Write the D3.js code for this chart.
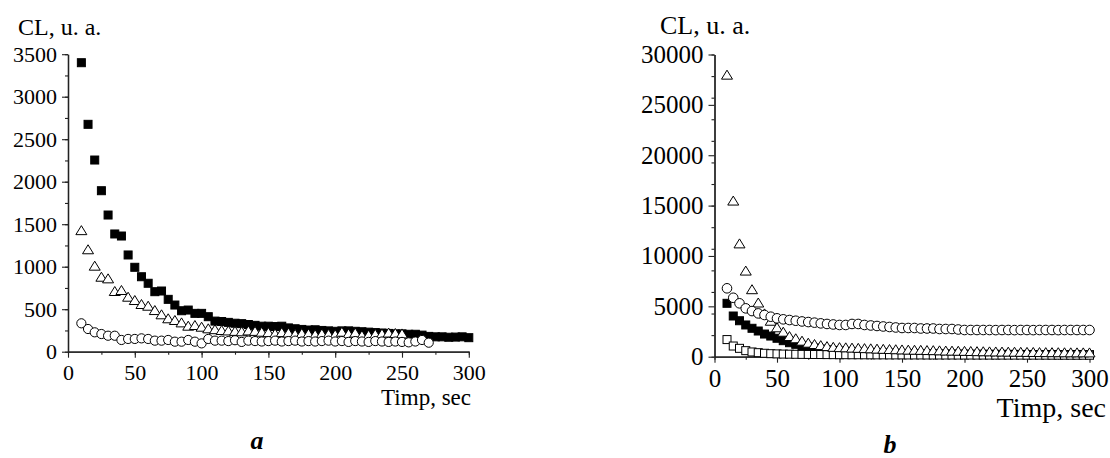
<!DOCTYPE html>
<html><head><meta charset="utf-8">
<script src="https://cdn.jsdelivr.net/npm/d3@7"></script>
<style>
body{margin:0;background:#fff;}
svg{display:block;}
text{font-family:"Liberation Serif","Times New Roman",serif;fill:#000;}
</style></head><body>
<svg id="c" width="1110" height="458"></svg>
<script>
// ---------- data ----------
const timeA = d3.range(10, 301, 5); // seconds
const aSquares = [3400,2675,2255,1894,1608,1385,1361,1138,993,882,805,706,714,616,549,482,490,451,451,412,
  360,355,345,335,330,320,310,300,300,296,300,280,270,262,255,258,250,245,240,245,245,240,235,230,225,220,215,210,210,205,
  205,195,180,175,175,170,172,175,165];
const aTriangles = [1430,1205,1012,882,863,714,726,647,608,561,541,490,440,393,373,345,306,314,294,275,
  265,255,250,245,240,250,245,235,230,215,230,225,210,220,215,205,215,210,205,235,215,225,195,200,210,215,225,220,215];
const aCircles = [334,267,228,208,188,188,138,150,150,157,150,130,130,138,118,118,138,118,98,150,
  130,130,125,135,115,130,125,120,125,130,120,125,130,120,125,120,125,130,120,125,115,125,120,115,125,120,115,120,115,110,
  120,138,106];
const timeB = d3.range(10, 301, 5);
const bTriangles = [28000,15500,11250,8550,6700,5380,4300,3570,2920,2480,2050,1830,1590,1390,1260,1150,1050,980,950,930,
  900,880,850,830,800,780,760,740,720,700,690,680,660,650,630,610,600,590,580,565,
  550,540,530,520,510,500,495,485,475,470,460,455,450,445,440,435,430,430,425];
const bCircles = [6790,5850,5300,4800,4530,4300,4140,3970,3810,3710,3640,3570,3500,3440,3380,3310,3250,3200,3150,3150,
  3250,3250,3150,3100,3050,3000,2950,2900,2850,2850,2850,2800,2800,2800,2750,2750,2750,2700,2650,2650,
  2650,2650,2650,2640,2650,2650,2640,2650,2650,2640,2650,2650,2650,2640,2650,2650,2650,2650,2650];
const bFilled = [5300,4040,3570,3150,2820,2550,2250,2050,1830,1590,1390,1230,1060,960,860,760,680,620,560,520,
  480,450,420,400,380,365,350,335,320,310,300,290,280,275,270,265,260,255,250,245,
  240,238,235,232,230,228,225,222,220,218,215,212,210,208,205,204,202,201,200];
const bOpen = [1700,1060,830,600,470,400,340,300,280,260,250,240,230,225,220,215,210,205,200,200,
  195,195,190,190,185,185,180,180,180,175,175,175,170,170,170,168,168,165,165,165,
  162,162,160,160,160,158,158,158,155,155,155,155,152,152,150,150,150,150,150];
const xTicks = [0,50,100,150,200,250,300];
const aYTicks = [0,500,1000,1500,2000,2500,3000,3500];
const bYTicks = [0,5000,10000,15000,20000,25000,30000];

// ---------- drawing ----------
const svg = d3.select("#c");
const FONT = '"Liberation Serif","Times New Roman",serif';

function tri(w,h){return `M0,${-h/2}L${w/2},${h/2}L${-w/2},${h/2}Z`;}

function panel(cfg){
  const g = svg.append("g");
  const x = d3.scaleLinear().domain([0,300]).range(cfg.xr);
  const y = d3.scaleLinear().domain([0,cfg.ymax]).range(cfg.yr);
  // minor ticks
  g.append("g").attr("transform",`translate(0,${cfg.yr[0]})`)
    .call(d3.axisBottom(x).tickValues(d3.range(0,301,25)).tickSize(3).tickSizeOuter(0).tickFormat(""));
  g.append("g").attr("transform",`translate(${cfg.xr[0]},0)`)
    .call(d3.axisLeft(y).tickValues(d3.range(0,cfg.ymax+1,cfg.ymax/14)).tickSize(3).tickSizeOuter(0).tickFormat(""));
  // major ticks
  const xa = g.append("g").attr("transform",`translate(0,${cfg.yr[0]})`)
    .call(d3.axisBottom(x).tickValues(xTicks).tickSize(6).tickSizeOuter(0).tickPadding(cfg.xpad).tickFormat(d3.format("d")));
  xa.attr("font-family",FONT).attr("font-size",cfg.fs);
  const ya = g.append("g").attr("transform",`translate(${cfg.xr[0]},0)`)
    .call(d3.axisLeft(y).tickValues(cfg.yticks).tickSize(6).tickSizeOuter(0).tickPadding(5).tickFormat(d3.format("d")));
  ya.attr("font-family",FONT).attr("font-size",cfg.fs);
  g.selectAll(".tick text").attr("fill","#000");
  g.selectAll(".domain, .tick line").attr("stroke","#222").attr("stroke-width",1.1);
  g.selectAll(".domain").attr("stroke-width",1.3);
  // series
  cfg.series.forEach(s=>{
    const data = s.v.map((v,i)=>({t:s.t[i],v}));
    const sg = g.append("g");
    if(s.shape==="circle"){
      sg.selectAll("circle").data(data).join("circle")
        .attr("cx",d=>x(d.t)).attr("cy",d=>y(d.v)).attr("r",s.r)
        .attr("fill","#fff").attr("stroke","#000").attr("stroke-width",1);
    } else if(s.shape==="tri"){
      sg.selectAll("path").data(data).join("path")
        .attr("transform",d=>`translate(${x(d.t)},${y(d.v)})`).attr("d",tri(s.w,s.h))
        .attr("fill","#fff").attr("stroke","#000").attr("stroke-width",1);
    } else {
      sg.selectAll("rect").data(data).join("rect")
        .attr("x",d=>x(d.t)-s.size/2).attr("y",d=>y(d.v)-s.size/2)
        .attr("width",s.size).attr("height",s.size)
        .attr("fill",s.fill).attr("stroke","#000").attr("stroke-width",1);
    }
  });
  // labels
  g.append("text").attr("x",cfg.title[0]).attr("y",cfg.title[1]).attr("font-size",cfg.tfs).text("CL, u. a.");
  g.append("text").attr("x",cfg.xl[0]).attr("y",cfg.xl[1]).attr("text-anchor","end").attr("font-size",cfg.xlfs).text("Timp, sec");
  g.append("text").attr("x",cfg.letter[0]).attr("y",cfg.letter[1]).attr("text-anchor","middle")
    .attr("font-size",26).attr("font-weight","bold").attr("font-style","italic").text(cfg.letter[2]);
}

panel({xr:[68,468.8], yr:[351.7,54.2], ymax:3500, yticks:aYTicks, fs:22, xpad:7, tfs:24, xlfs:23,
  title:[18,35], xl:[471,405], letter:[257,449,"a"],
  series:[
    {shape:"rect", fill:"#000", size:8, t:timeA, v:aSquares},
    {shape:"tri", w:11, h:9, t:timeA, v:aTriangles},
    {shape:"circle", r:4.6, t:timeA, v:aCircles}
  ]});
panel({xr:[714.5,1089.5], yr:[356.7,54.5], ymax:30000, yticks:bYTicks, fs:25, xpad:7, tfs:26, xlfs:28,
  title:[660,34], xl:[1106,417], letter:[890,453,"b"],
  series:[
    {shape:"rect", fill:"#000", size:8, t:timeB, v:bFilled},
    {shape:"rect", fill:"#fff", size:8, t:timeB, v:bOpen},
    {shape:"tri", w:11, h:9, t:timeB, v:bTriangles},
    {shape:"circle", r:4.8, t:timeB, v:bCircles}
  ]});
</script>
</body></html>
